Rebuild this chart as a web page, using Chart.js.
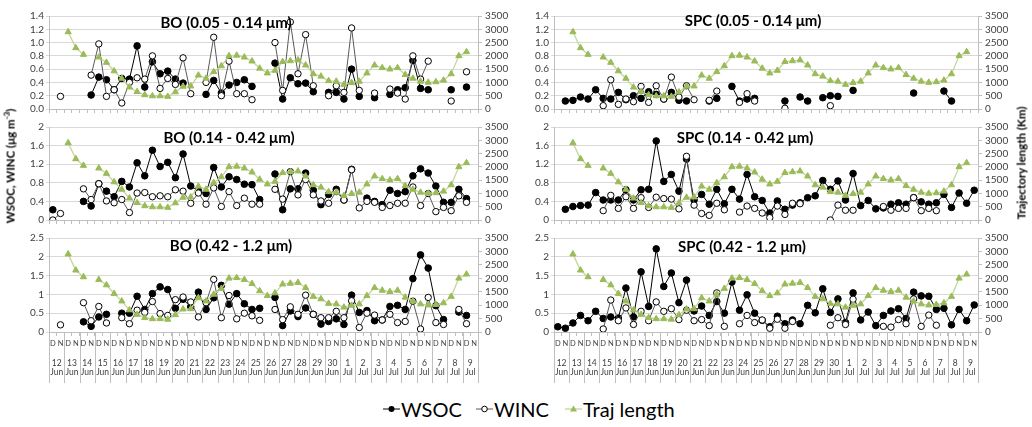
<!DOCTYPE html>
<html><head><meta charset="utf-8">
<script src="https://cdn.jsdelivr.net/npm/chart.js@4.4.1/dist/chart.umd.min.js"></script>
<style>
body{margin:0;background:#fff;width:1032px;height:427px;position:relative;overflow:hidden;font-family:Lato,"Open Sans",sans-serif;}
canvas{position:absolute;}
.ttl{position:absolute;font-weight:bold;font-size:15px;color:#000;white-space:nowrap;transform:translate(-50%,-50%);}
.ax{position:absolute;font-weight:bold;font-size:11.5px;color:#000;white-space:nowrap;transform:translate(-50%,-50%) rotate(-90deg);}
.lg{position:absolute;top:397px;font-size:20px;color:#000;white-space:nowrap;display:flex;align-items:center;}
.lg svg{margin-right:1px;}
</style></head><body>
<canvas id="bo1" width="515" height="111" style="left:0;top:7px"></canvas>
<canvas id="bo2" width="515" height="111" style="left:0;top:118px"></canvas>
<canvas id="bo3" width="515" height="158" style="left:0;top:229px"></canvas>
<canvas id="spc1" width="517" height="111" style="left:515px;top:7px"></canvas>
<canvas id="spc2" width="517" height="111" style="left:515px;top:118px"></canvas>
<canvas id="spc3" width="517" height="158" style="left:515px;top:229px"></canvas>

<div class="ttl" style="left:226px;top:22px">BO (0.05 - 0.14 μm)</div>
<div class="ttl" style="left:229px;top:137px">BO (0.14 - 0.42 μm)</div>
<div class="ttl" style="left:231px;top:245px">BO (0.42 - 1.2 μm)</div>
<div class="ttl" style="left:753px;top:20px">SPC (0.05 - 0.14 μm)</div>
<div class="ttl" style="left:745px;top:137px">SPC (0.14 - 0.42 μm)</div>
<div class="ttl" style="left:742px;top:246px">SPC (0.42 - 1.2 μm)</div>

<div class="ax" style="left:9px;top:166px">WSOC, WINC (μg m<sup style="font-size:8px">-3</sup>)</div>
<div class="ax" style="left:1021px;top:163px">Trajectory length (Km)</div>

<div class="lg" style="left:383px"><svg width="17" height="10"><line x1="0" y1="5" x2="17" y2="5" stroke="#000" stroke-width="1"/><circle cx="8.5" cy="5" r="3" fill="#000"/></svg>WSOC</div>
<div class="lg" style="left:476px"><svg width="17" height="10"><line x1="0" y1="5" x2="17" y2="5" stroke="#595959" stroke-width="1"/><circle cx="8.5" cy="5" r="2.8" fill="#fff" stroke="#000" stroke-width="1"/></svg>WINC</div>
<div class="lg" style="left:565px"><svg width="17" height="10"><line x1="0" y1="5" x2="17" y2="5" stroke="#c3d69b" stroke-width="1.3"/><polygon points="8.5,1.5 12,7.5 5,7.5" fill="#9bbb59"/></svg>Traj length</div>

<script>
const DN_LABELS = ['D','N','D','N','D','N','D','N','D','N','D','N','D','N','D','N','D','N','D','N',
  'D','N','D','N','D','N','D','N','D','N','D','N','D','N','D','N','D','N','D','N',
  'D','N','D','N','D','N','D','N','D','N','D','N','D','N','D','N'];
const DAY_LABELS = [['12','Jun'],['13','Jun'],['14','Jun'],['15','Jun'],['16','Jun'],['17','Jun'],['18','Jun'],
  ['19','Jun'],['20','Jun'],['21','Jun'],['22','Jun'],['23','Jun'],['24','Jun'],['25','Jun'],['26','Jun'],
  ['27','Jun'],['28','Jun'],['29','Jun'],['30','Jun'],['1','Jul'],['2','Jul'],['3','Jul'],['4','Jul'],
  ['5','Jul'],['6','Jul'],['7','Jul'],['8','Jul'],['9','Jul']];

const TICKS_SMALL = [0, 0.2, 0.4, 0.6, 0.8, 1.0, 1.2, 1.4];
const TICKS_MID = [0, 0.4, 0.8, 1.2, 1.6, 2];
const TICKS_LARGE = [0, 0.5, 1, 1.5, 2, 2.5];
const TRAJ_TICKS = [0, 500, 1000, 1500, 2000, 2500, 3000, 3500];

const TRAJ_LENGTH = [null,null,2900,2300,2050,null,1950,1750,
  1430,1150,820,650,530,490,490,470,
  640,850,860,1270,1150,1400,1620,2000,
  2020,1950,1800,1530,1350,1450,1780,1810,
  1840,1650,1320,1230,1060,1040,920,990,
  1040,1350,1650,1550,1500,1550,1290,1150,
  1040,1000,1020,1080,1320,2000,2150,null];

const BO_WSOC_1 = [null,null,null,null,null,0.21,0.48,0.44,
  0.29,0.46,0.45,0.95,0.33,0.71,0.53,0.57,
  0.45,0.39,null,null,0.22,0.43,0.24,0.36,
  0.40,0.44,0.34,null,null,0.69,0.15,0.47,
  0.38,0.39,0.26,null,0.25,0.25,0.15,0.60,
  0.19,null,0.17,null,0.22,0.29,0.32,0.73,
  0.31,0.29,null,null,0.29,null,0.33,null];
const BO_WINC_1 = [null,0.19,null,null,null,0.51,0.98,0.19,
  0.29,0.09,0.40,0.47,0.45,0.80,0.31,0.46,
  0.37,0.77,0.23,null,0.40,1.08,0.20,0.72,
  0.23,0.23,0.14,null,null,1.00,0.28,1.31,
  0.53,1.12,0.35,null,0.20,0.35,0.25,1.22,
  0.28,null,0.24,null,0.30,0.24,0.15,0.80,
  0.45,0.72,null,null,0.12,null,0.56,null];

const BO_WSOC_2 = [0.22,null,null,null,0.40,0.30,0.78,0.62,
  0.50,0.83,0.71,1.23,0.95,1.50,1.15,1.24,
  0.91,1.42,0.73,0.63,0.57,1.13,0.71,0.93,
  0.87,0.77,0.76,0.44,null,0.99,0.22,0.67,
  0.67,1.01,0.64,0.33,0.55,0.66,0.43,1.09,
  null,0.47,0.40,0.33,0.64,0.57,0.61,0.95,
  1.10,1.01,0.73,0.38,0.38,0.66,0.46,null];
const BO_WINC_2 = [0.00,0.14,null,null,0.67,0.44,0.78,0.41,
  0.37,0.44,0.16,0.58,0.59,0.50,0.52,0.50,
  0.65,0.62,0.36,0.58,0.34,0.69,0.29,0.61,
  0.31,0.47,0.34,0.34,null,0.66,0.45,1.04,
  0.54,0.87,0.54,0.41,0.36,0.61,0.43,1.08,
  0.26,0.40,0.38,0.27,0.31,0.36,0.36,0.71,
  0.31,0.57,0.18,0.27,0.20,0.52,0.38,null];

const BO_WSOC_3 = [null,null,null,null,0.27,0.15,0.40,0.47,
  null,0.50,0.50,0.95,0.60,1.02,1.20,1.13,
  0.63,0.87,0.67,1.06,0.60,0.91,1.24,0.74,
  1.02,0.75,0.60,0.63,null,0.92,0.17,0.56,
  0.41,0.64,0.47,0.21,0.28,0.35,0.20,0.98,
  0.52,0.57,0.30,0.32,0.68,0.71,0.60,1.42,
  2.05,1.70,0.70,0.33,null,0.53,0.44,null];
const BO_WINC_3 = [null,0.19,null,null,0.78,0.30,0.68,0.24,
  null,0.38,0.22,0.58,0.52,0.81,0.49,0.44,
  0.86,0.93,0.80,0.40,0.78,1.40,0.38,0.97,
  0.35,0.50,0.43,0.31,null,0.60,0.33,0.67,
  0.47,0.98,0.47,0.38,0.38,0.55,0.38,0.83,
  0.12,0.50,0.45,0.32,0.47,0.25,0.28,0.82,
  0.08,0.92,0.25,0.20,null,0.60,0.22,null];

const SPC_WSOC_1 = [null,0.12,0.13,0.18,0.15,0.29,0.16,0.15,
  0.25,0.14,0.20,0.16,0.26,0.22,0.15,0.25,
  0.13,0.12,null,null,0.12,0.16,null,0.34,
  0.12,0.15,0.16,null,null,null,0.12,null,
  0.18,0.12,null,0.17,0.20,0.19,null,0.28,
  null,null,null,null,null,null,null,0.24,
  null,null,null,0.27,0.12,null,null,null];
const SPC_WINC_1 = [null,null,null,null,null,null,0.05,0.44,
  0.07,0.15,0.11,0.34,0.10,0.35,0.15,0.48,
  0.18,0.35,0.14,null,0.13,0.27,null,null,
  0.10,0.23,0.12,null,null,null,0.01,null,
  null,null,null,null,0.05,null,null,null,
  null,null,null,null,null,null,null,null,
  null,null,null,null,null,null,null,null];

const SPC_WSOC_2 = [null,0.23,0.29,0.31,0.32,0.59,0.43,0.43,
  0.43,0.65,0.43,0.65,0.66,1.70,0.83,0.98,
  0.62,1.31,0.43,0.55,0.34,0.66,0.35,0.66,
  0.45,0.98,0.50,0.42,0.15,0.41,0.23,0.32,
  0.37,0.48,0.52,0.85,0.66,0.84,0.43,1.00,
  0.31,0.42,0.24,0.26,0.34,0.37,0.34,0.48,
  0.39,0.34,0.37,0.55,0.27,0.58,0.36,0.64];
const SPC_WINC_2 = [null,null,null,null,null,null,0.20,0.53,
  0.25,0.50,0.25,0.48,0.27,0.49,0.46,0.45,
  0.24,1.37,0.32,0.14,0.10,0.36,0.22,null,
  0.17,0.30,0.25,0.15,0.05,0.30,0.12,0.36,
  0.35,null,null,null,0.00,0.32,0.21,0.21,
  null,null,null,0.29,0.21,0.25,0.25,0.48,
  0.20,0.25,0.20,null,null,null,null,null];

const SPC_WSOC_3 = [0.14,0.10,0.24,0.44,0.30,0.55,0.36,0.40,
  0.37,1.17,0.40,1.60,0.68,2.21,1.21,1.57,
  0.78,1.38,0.56,0.69,0.44,0.81,0.50,1.33,
  0.58,0.99,0.50,0.31,0.14,0.42,0.22,0.32,
  0.22,0.71,0.51,1.15,0.52,0.88,0.25,1.04,
  0.32,0.53,0.17,0.44,0.56,0.62,0.36,1.06,
  0.96,0.95,0.60,0.63,0.19,0.60,0.30,0.72];
const SPC_WINC_3 = [null,null,null,null,null,null,0.08,0.85,
  0.30,0.64,0.20,0.55,0.30,0.80,0.55,0.62,
  0.33,0.58,0.30,0.33,0.17,1.04,0.15,null,
  0.22,0.44,0.25,0.32,0.10,0.34,0.10,0.28,
  null,null,null,null,0.18,0.38,0.20,0.87,
  null,null,null,0.15,0.13,0.33,0.22,0.88,
  0.15,0.45,0.18,null,null,null,null,null];

Chart.defaults.font.family = 'Lato, "Open Sans", sans-serif';
Chart.defaults.color = '#404040';

const daySeparators = {
  id: 'daySeparators',
  afterDraw(chart) {
    if (!chart.scales.x2) return;
    const xs = chart.scales.x, ctx = chart.ctx;
    const n = DAY_LABELS.length;
    ctx.save();
    ctx.strokeStyle = '#bfbfbf';
    ctx.lineWidth = 1;
    for (let d = 0; d <= n; d++) {
      const x = Math.round(xs.left + (xs.right - xs.left) * d / n) + 0.5;
      ctx.beginPath();
      ctx.moveTo(x, chart.chartArea.bottom);
      ctx.lineTo(x, chart.chartArea.bottom + 51);
      ctx.stroke();
    }
    ctx.restore();
  }
};

function makePanel(id, wsoc, winc, yTicks, yDec, bottom, leftW, rightW) {
  const scales = {
    x: {
      type: 'category', offset: true,
      grid: {display: true, drawOnChartArea: false, drawTicks: true, tickLength: 4, color: '#bfbfbf', offset: true},
      border: {display: true, color: '#bfbfbf'},
      ticks: {display: bottom, autoSkip: false, maxRotation: 0, minRotation: 0, color: '#404040', font: {size: 7.5}, padding: 3},
      afterFit(s) { s.height = bottom ? 17 : 8; }
    },
    y: {
      position: 'left', min: yTicks[0], max: yTicks[yTicks.length - 1],
      grid: {color: '#d9d9d9', tickLength: 3, drawTicks: true},
      border: {display: true, color: '#bfbfbf'},
      ticks: {autoSkip: false, padding: 2, color: '#404040', font: {size: 10},
        callback: v => yDec ? Number(v).toFixed(1) : String(+Number(v).toFixed(1))},
      afterBuildTicks(s) { s.ticks = yTicks.map(v => ({value: v})); },
      afterFit(s) { s.width = leftW; }
    },
    y2: {
      position: 'right', min: TRAJ_TICKS[0], max: TRAJ_TICKS[TRAJ_TICKS.length - 1],
      grid: {drawOnChartArea: false, color: '#bfbfbf', tickLength: 4},
      border: {display: true, color: '#bfbfbf'},
      ticks: {autoSkip: false, padding: 3, color: '#404040', font: {size: 10}, callback: v => String(v)},
      afterBuildTicks(s) { s.ticks = TRAJ_TICKS.map(v => ({value: v})); },
      afterFit(s) { s.width = rightW; }
    }
  };
  if (bottom) {
    scales.x2 = {
      type: 'category', labels: DAY_LABELS, offset: true, position: 'bottom',
      grid: {display: false, drawTicks: false}, border: {display: false},
      ticks: {autoSkip: false, maxRotation: 0, minRotation: 0, color: '#404040', font: {size: 8.5, lineHeight: 1.05}, padding: 10},
      afterFit(s) { s.height = 38; }
    };
  }
  return new Chart(document.getElementById(id), {
    type: 'line',
    data: {
      labels: DN_LABELS,
      datasets: [
        {label: 'Traj length', data: TRAJ_LENGTH, yAxisID: 'y2', order: 0,
          borderColor: '#c3d69b', borderWidth: 1.3, pointStyle: 'triangle', pointRadius: 3.6,
          pointBackgroundColor: '#9bbb59', pointBorderColor: '#9bbb59', pointBorderWidth: 1, spanGaps: false},
        {label: 'WINC', data: winc, yAxisID: 'y', order: 1,
          borderColor: '#595959', borderWidth: 1, pointStyle: 'circle', pointRadius: 3.2,
          pointBackgroundColor: '#ffffff', pointBorderColor: '#000000', pointBorderWidth: 1, spanGaps: false},
        {label: 'WSOC', data: wsoc, yAxisID: 'y', order: 2,
          borderColor: '#000000', borderWidth: 1, pointStyle: 'circle', pointRadius: 3.3,
          pointBackgroundColor: '#000000', pointBorderColor: '#000000', pointBorderWidth: 1, spanGaps: false}
      ]
    },
    options: {
      responsive: false, animation: false, devicePixelRatio: 1,
      layout: {padding: {top: 8, left: 0, right: 0, bottom: 0}},
      elements: {line: {tension: 0}},
      plugins: {legend: {display: false}, tooltip: {enabled: false}},
      scales
    },
    plugins: [daySeparators]
  });
}

makePanel('bo1', BO_WSOC_1, BO_WINC_1, TICKS_SMALL, true, false, 49, 37);
makePanel('bo2', BO_WSOC_2, BO_WINC_2, TICKS_MID, false, false, 49, 37);
makePanel('bo3', BO_WSOC_3, BO_WINC_3, TICKS_LARGE, false, true, 49, 37);
makePanel('spc1', SPC_WSOC_1, SPC_WINC_1, TICKS_SMALL, true, false, 39, 54);
makePanel('spc2', SPC_WSOC_2, SPC_WINC_2, TICKS_MID, false, false, 39, 54);
makePanel('spc3', SPC_WSOC_3, SPC_WINC_3, TICKS_LARGE, false, true, 39, 54);
</script>
</body></html>
